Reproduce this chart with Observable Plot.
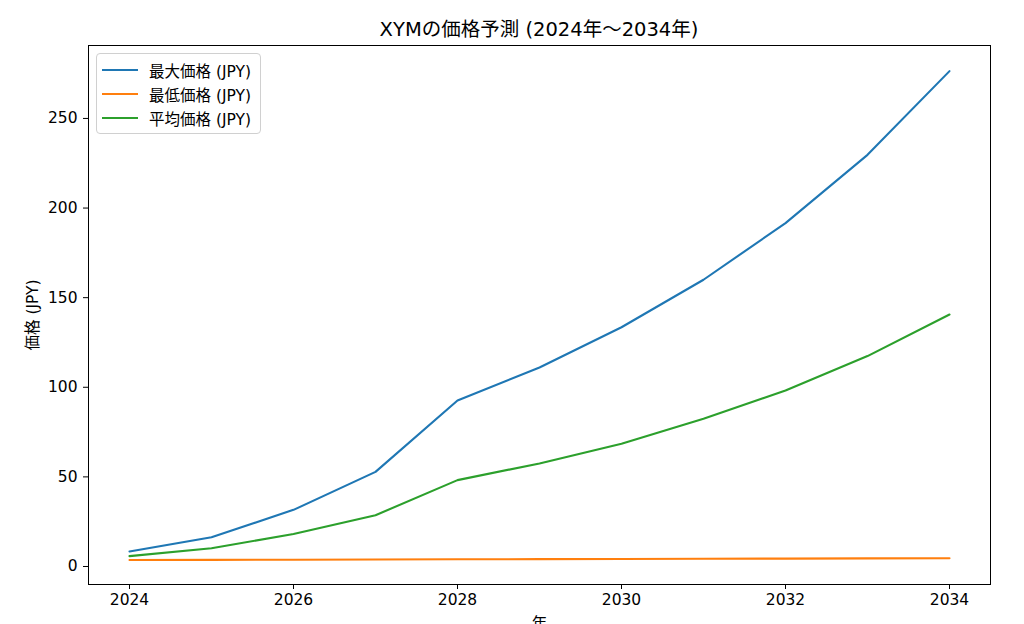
<!DOCTYPE html>
<html>
<head>
<meta charset="utf-8">
<script src="https://cdn.jsdelivr.net/npm/d3@7"></script>
<script src="https://cdn.jsdelivr.net/npm/@observablehq/plot@0.6"></script>
<style>
  html, body { margin: 0; padding: 0; background: #fff; }
  body { width: 1024px; height: 624px; overflow: hidden; position: relative; font-family: "DejaVu Sans", "Noto Sans CJK JP", sans-serif; }
  #title { height: 44px; margin-left: 88px; width: 902px; box-sizing: border-box; padding-top: 20px; line-height: 20px; font-size: 19.5px; text-align: center; color: #000; white-space: nowrap; }
  #legend { position: absolute; left: 96px; top: 53px; width: 165px; height: 81px; box-sizing: border-box; border: 1px solid #d0d0d0; border-radius: 4px; background: rgba(255,255,255,0.8); padding-top: 4px; }
  .row { height: 24px; display: flex; align-items: center; font-size: 15.5px; color: #000; white-space: nowrap; }
  .sw { width: 36px; height: 2px; margin-left: 5px; margin-right: 11px; }
</style>
</head>
<body>
<div id="title">XYMの価格予測 (2024年〜2034年)</div>
<div id="chart"></div>
<div id="legend"></div>
<script>
const years = [2024, 2025, 2026, 2027, 2028, 2029, 2030, 2031, 2032, 2033, 2034];
const maxPrice = [8.4, 16.3, 31.6, 52.8, 92.6, 111.0, 133.5, 160.0, 191.6, 229.7, 276.4];
const minPrice = [3.6, 3.7, 3.8, 3.9, 4.0, 4.1, 4.2, 4.3, 4.4, 4.5, 4.6];
const avgPrice = [5.8, 10.2, 18.1, 28.6, 48.2, 57.5, 68.5, 82.4, 98.2, 117.4, 140.6];
const seriesNames = ["最大価格 (JPY)", "最低価格 (JPY)", "平均価格 (JPY)"];
const seriesColors = ["#1f77b4", "#ff7f0e", "#2ca02c"];
const xTicks = [2024, 2026, 2028, 2030, 2032, 2034];
const yTicks = [0, 50, 100, 150, 200, 250];

const seriesValues = [maxPrice, minPrice, avgPrice];
const data = [];
seriesNames.forEach((name, i) => {
  years.forEach((y, j) => data.push({year: y, value: seriesValues[i][j], series: name}));
});

const chart = Plot.plot({
  width: 1024,
  height: 580,
  marginTop: 1,
  marginBottom: 40,
  marginLeft: 88,
  marginRight: 34,
  style: {fontFamily: "'DejaVu Sans', 'Noto Sans CJK JP', sans-serif", fontSize: "15.5px", color: "#000", background: "#fff"},
  x: {domain: [2023.5, 2034.5]},
  y: {domain: [-10.05, 290.7]},
  color: {domain: seriesNames, range: seriesColors},
  marks: [
    Plot.line(data, {x: "year", y: "value", z: "series", stroke: "series", strokeWidth: 2.1}),
    Plot.frame({stroke: "#000", strokeWidth: 1}),
    Plot.axisX({ticks: xTicks, tickFormat: d => String(d), tickSize: 5, tickPadding: 4, label: "年", labelAnchor: "center", labelArrow: "none", labelOffset: 44, fontSize: "15.5px"}),
    Plot.axisY({ticks: yTicks, tickFormat: d => String(d), tickSize: 5, tickPadding: 6, label: "価格 (JPY)", labelAnchor: "center", labelArrow: "none", labelOffset: 62, fontSize: "15.5px"})
  ]
});
document.getElementById("chart").appendChild(chart);

const legend = document.getElementById("legend");
seriesNames.forEach((name, i) => {
  const row = document.createElement("div");
  row.className = "row";
  const sw = document.createElement("div");
  sw.className = "sw";
  sw.style.background = seriesColors[i];
  const t = document.createElement("span");
  t.textContent = name;
  row.appendChild(sw);
  row.appendChild(t);
  legend.appendChild(row);
});
</script>
</body>
</html>
